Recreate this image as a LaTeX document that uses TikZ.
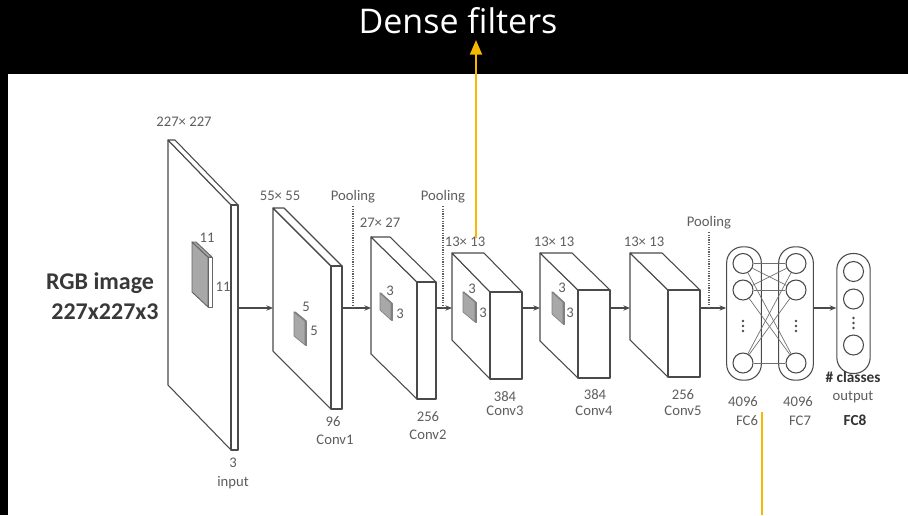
\documentclass[tikz,border=0pt]{standalone}
\usepackage{fontspec}
\setmainfont{Carlito}
\newfontfamily\headfont{Open Sans}
\usetikzlibrary{arrows.meta,positioning}
\definecolor{edge}{HTML}{4A4A4A}
\definecolor{lbl}{HTML}{5E5E5E}
\definecolor{kern}{HTML}{A8A8A8}
\definecolor{hilite}{HTML}{F5B700}
\tikzset{slab/.style={draw=edge, line width=0.8pt, fill=white, line join=round},
  kernel/.style={fill=kern, draw=edge!70, line width=0.5pt},
  flow/.style={-{Stealth[length=5pt, width=4pt]}, draw=edge, line width=0.8pt},
  poolln/.style={draw=lbl, densely dotted, line width=0.8pt},
  lab/.style={font=\fontsize{11}{12}\selectfont, text=lbl, inner sep=0pt},
  boldlab/.style={font=\bfseries\fontsize{11.5}{12}\selectfont, text=black!80, inner sep=0pt},
  neuron/.style={circle, draw=edge, line width=0.8pt, minimum size=15pt, inner sep=0pt},
  fcbox/.style={draw=edge, line width=0.8pt, rounded corners=12pt, minimum width=26pt},
  mesh/.style={draw=edge!80, line width=0.5pt},
  pointer/.style={draw=hilite, line width=1.6pt}}

% #2 name, #3 left x, #4 top y, #5/#6 depth offset, #7 width, #8 height
\newcommand\layerslab[8][]{%
  \draw[slab,#1] (#3,#4) -- ++(#5,#6) -- ++(0,#8) -- ++(-#5,-#6) -- cycle;
  \draw[slab,#1] (#3,#4) -- ++(#7,0) -- ++(#5,#6) -- ++(-#7,0) -- cycle;
  \draw[slab,#1,fill=white] ({#3+#5},{#4+#6}) rectangle ++(#7,#8);
  \coordinate (#2-in) at (#3,308);
  \coordinate (#2-out) at ({#3+#5+#7},308);
}

\begin{document}
\begin{tikzpicture}[x=0.75pt, y=-0.75pt, font=\fontsize{11}{12}\selectfont]
  \useasboundingbox (0,0) rectangle (908,515);
  \fill[black] (0,0) rectangle (908,515);
  \fill[white] (8,74) rectangle (908,515);

  \node[font=\headfont\fontsize{25.5}{28}\selectfont, text=white, anchor=base] (title) at (458,33) {Dense filters};

  \node[font=\bfseries\fontsize{18}{20}\selectfont, text=black!78] (rgb1) at (100,283) {RGB image};
  \node[font=\bfseries\fontsize{18}{20}\selectfont, text=black!78] (rgb2) at (105,312) {227x227x3};

  \layerslab{inp}{168}{140}{63}{65}{7}{245}
  \layerslab[kernel, draw=edge!85, line width=0.7pt]{k0}{192}{242}{16}{15}{4}{50}
  \layerslab{c1}{273}{208}{58}{58}{11}{143}
  \layerslab[kernel]{k1}{294}{312}{11}{9}{1.5}{24}
  \layerslab{c2}{371}{237}{46}{45}{19}{117}
  \layerslab[kernel]{k2}{380}{293}{11}{10}{1}{17}
  \layerslab{c3}{452}{253}{38}{39}{32}{87}
  \layerslab[kernel]{k3}{463}{292}{12}{10}{1}{20}
  \layerslab{c4}{540}{253}{38}{37}{32}{88}
  \layerslab[kernel]{k4}{552}{292}{11}{10}{1}{22}
  \layerslab{c5}{630}{253}{38}{37}{32}{87}

  \node[fcbox, minimum height=100pt] (fc6) at (744,313.5) {};
  \node[fcbox, minimum height=100pt] (fc7) at (796,313.5) {};
  \node[fcbox, minimum height=90pt, minimum width=25pt] (fc8) at (853.5,313.5) {};
  \foreach \n/\x in {6/743, 7/796} {
    \node[neuron] (n\n a) at (\x,263.5) {};
    \node[neuron] (n\n b) at (\x,290) {};
    \node[neuron] (n\n c) at (\x,363) {};
    \foreach \y in {321,326,331}
      \fill[edge] (\x,\y) circle (1.3);
  }
  \node[neuron] (n8a) at (853.5,271.5) {};
  \node[neuron] (n8b) at (853.5,299) {};
  \node[neuron] (n8c) at (853.5,345) {};
  \foreach \y in {318,323,328}
    \fill[edge] (853.5,\y) circle (1.3);
  \foreach \s in {a,b,c}
    \foreach \t in {a,b,c}
      \draw[mesh] (n6\s) -- (n7\t);

  \draw[flow] (inp-out) -- (c1-in);
  \draw[flow] (c1-out) -- (c2-in);
  \draw[flow] (c2-out) -- (c3-in);
  \draw[flow] (c3-out) -- (c4-in);
  \draw[flow] (c4-out) -- (c5-in);
  \draw[flow] (c5-out) -- (c5-out -| fc6.west);
  \draw[flow] (c5-out -| fc7.east) -- (c5-out -| fc8.west);

  \node[lab] (pool1) at (353,197) {Pooling};
  \node[lab] (pool2) at (443,197) {Pooling};
  \node[lab] (pool3) at (709,223) {Pooling};
  \draw[poolln] ([yshift=-2pt]pool1.south) -- (pool1 |- c1-out);
  \draw[poolln] ([yshift=-2pt]pool2.south) -- (pool2 |- c2-out);
  \draw[poolln] ([yshift=-2pt]pool3.south) -- (pool3 |- c5-out);

  \node[lab] (sz0) at (184,122) {227× 227};
  \node[lab] (sz1) at (280,196) {55× 55};
  \node[lab] (sz2) at (380,223) {27× 27};
  \node[lab] (sz3) at (465,242) {13× 13};
  \node[lab] (sz4) at (554,242) {13× 13};
  \node[lab] (sz5) at (644,242) {13× 13};

  \node[lab] (k0a) at (207,238) {11};
  \node[lab] (k0b) at (223,287) {11};
  \node[lab] (k1a) at (306,307) {5};
  \node[lab] (k1b) at (314,331) {5};
  \node[lab] (k2a) at (390,291) {3};
  \node[lab] (k2b) at (400,314) {3};
  \node[lab] (k3a) at (472,289) {3};
  \node[lab] (k3b) at (483,313) {3};
  \node[lab] (k4a) at (562,288) {3};
  \node[lab] (k4b) at (570,313) {3};

  \node[lab] (dep0) at (233,463) {3};
  \node[lab] (nm0) at (233,483) {input};
  \node[lab] (dep1) at (333,422) {96};
  \node[lab] (nm1) at (335,440) {Conv1};
  \node[lab] (dep2) at (428,417) {256};
  \node[lab] (nm2) at (428,435) {Conv2};
  \node[lab] (dep3) at (505,397) {384};
  \node[lab] (nm3) at (505,411) {Conv3};
  \node[lab] (dep4) at (595,395) {384};
  \node[lab] (nm4) at (594,411) {Conv4};
  \node[lab] (dep5) at (683,395) {256};
  \node[lab] (nm5) at (683,411) {Conv5};
  \node[lab] (dep6) at (743,402) {4096};
  \node[lab] (nm6) at (747,421) {FC6};
  \node[lab] (dep7) at (798,402) {4096};
  \node[lab] (nm7) at (800,421) {FC7};
  \node[boldlab] (cls) at (853,377) {\# classes};
  \node[lab] (outp) at (853,397) {output};
  \node[boldlab] (nm8) at (855,420) {FC8};

  \coordinate (dfbase) at (476,238);
  \coordinate (dftip) at (476,40);
  \draw[pointer, -{Triangle[length=11pt, width=9pt]}] (dfbase) -- (dftip);
  \coordinate (fctop) at (762,412);
  \coordinate (fcend) at (762,515);
  \draw[pointer] (fctop) -- (fcend);
\end{tikzpicture}
\end{document}
